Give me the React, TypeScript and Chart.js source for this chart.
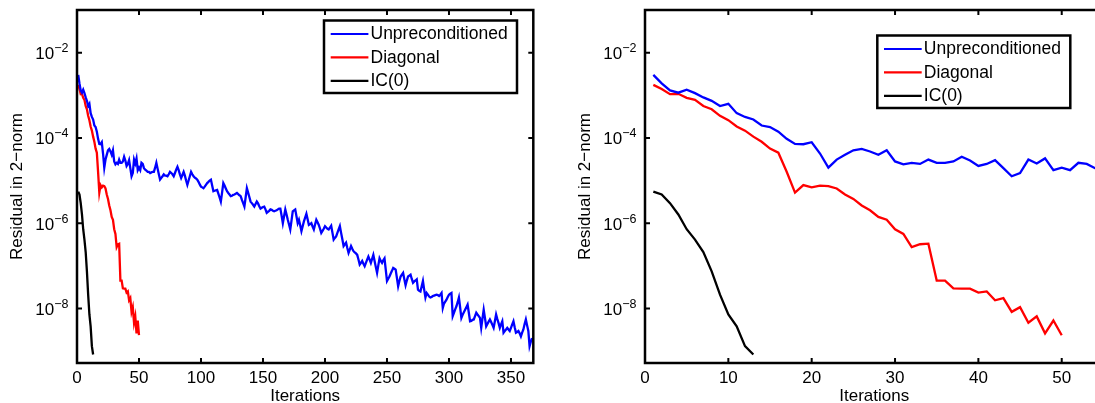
import React, { useEffect, useRef } from 'react';
import { Chart, registerables } from 'chart.js';

Chart.register(...registerables);

const FONT = "'Liberation Sans', Arial, Helvetica, sans-serif";

// Residual (2-norm) per iteration, starting at iteration 1
const unpreconditioned = [
  3.0e-3, 1.9e-3, 1.3e-3, 1.15e-3, 1.35e-3, 1.12e-3, 8.9e-4, 7.4e-4, 5.6e-4, 6.3e-4,
  3.8e-4, 3.1e-4, 2.7e-4, 1.95e-4, 1.8e-4, 1.4e-4, 9.5e-5, 7.2e-5, 7.1e-5, 7.9e-5,
  4.3e-5, 2.0e-5, 3.1e-5, 4.0e-5, 5.1e-5, 5.5e-5, 4.8e-5, 4.0e-5, 5.1e-5, 2.8e-5,
  2.4e-5, 2.6e-5, 2.45e-5, 3.1e-5, 2.6e-5, 2.6e-5, 2.8e-5, 3.6e-5, 2.95e-5, 2.2e-5,
  2.45e-5, 3.0e-5, 1.95e-5, 1.26e-5, 1.5e-5, 3.1e-5, 2.5e-5, 3.3e-5, 1.75e-5, 2.0e-5,
  1.75e-5, 2.6e-5, 2.45e-5, 1.95e-5, 1.8e-5, 1.7e-5, 1.6e-5, 1.6e-5, 1.5e-5, 1.55e-5,
  1.6e-5, 1.6e-5, 2.0e-5, 2.6e-5, 1.9e-5, 1.4e-5, 1.05e-5, 1.15e-5, 1.26e-5, 1.4e-5,
  1.3e-5, 1.3e-5, 1.26e-5, 1.4e-5, 1.6e-5, 1.5e-5, 1.4e-5, 1.26e-5, 1.5e-5, 1.8e-5,
  2.1e-5, 1.75e-5, 1.4e-5, 1.15e-5, 1.35e-5, 1.6e-5, 1.3e-5, 1.0e-5, 7.9e-6, 1.0e-5,
  1.26e-5, 1.6e-5, 1.4e-5, 1.26e-5, 1.17e-5, 1.12e-5, 1.05e-5, 9.3e-6, 8.1e-6, 7.2e-6,
  6.9e-6, 6.6e-6, 7.2e-6, 7.9e-6, 8.7e-6, 9.3e-6, 1.0e-5, 1.05e-5, 7.6e-6, 5.6e-6,
  5.75e-6, 5.9e-6, 6.0e-6, 4.9e-6, 4.0e-6, 3.2e-6, 5.2e-6, 8.7e-6, 7.6e-6, 6.5e-6,
  5.6e-6, 5.1e-6, 4.7e-6, 4.3e-6, 4.4e-6, 4.6e-6, 4.7e-6, 4.9e-6, 5.1e-6, 4.8e-6,
  4.5e-6, 4.3e-6, 3.5e-6, 2.95e-6, 2.45e-6, 4.0e-6, 6.6e-6, 5.2e-6, 4.1e-6, 3.2e-6,
  2.95e-6, 2.7e-6, 2.45e-6, 2.8e-6, 3.2e-6, 2.9e-6, 2.5e-6, 2.2e-6, 2.3e-6, 2.4e-6,
  2.45e-6, 2.1e-6, 1.75e-6, 1.85e-6, 1.95e-6, 2.1e-6, 2.05e-6, 1.95e-6, 1.9e-6, 1.95e-6,
  2.0e-6, 2.1e-6, 2.2e-6, 2.2e-6, 1.5e-6, 1.0e-6, 1.45e-6, 2.1e-6, 1.6e-6, 1.2e-6,
  9.3e-7, 7.1e-7, 1.15e-6, 1.9e-6, 2.0e-6, 2.1e-6, 1.45e-6, 1.0e-6, 1.2e-6, 8.9e-7,
  6.5e-7, 8.5e-7, 1.1e-6, 1.35e-6, 1.65e-6, 1.23e-6, 9.1e-7, 9.5e-7, 1.0e-6, 8.3e-7,
  7.1e-7, 9.3e-7, 1.2e-6, 1.05e-6, 9.1e-7, 7.4e-7, 5.9e-7, 6.6e-7, 7.4e-7, 8.5e-7,
  7.9e-7, 7.4e-7, 7.1e-7, 7.9e-7, 8.7e-7, 6.0e-7, 4.1e-7, 4.5e-7, 4.9e-7, 5.9e-7,
  7.1e-7, 8.5e-7, 5.9e-7, 4.2e-7, 2.9e-7, 3.2e-7, 3.5e-7, 2.6e-7, 2.0e-7, 2.4e-7,
  2.9e-7, 2.5e-7, 2.2e-7, 2.05e-7, 1.95e-7, 1.8e-7, 1.4e-7, 1.07e-7, 1.17e-7, 1.3e-7,
  1.12e-7, 9.8e-8, 1.17e-7, 1.4e-7, 1.65e-7, 1.4e-7, 1.17e-7, 1.45e-7, 1.8e-7, 1.3e-7,
  9.3e-8, 6.8e-8, 1.02e-7, 1.5e-7, 1.3e-7, 1.17e-7, 1.35e-7, 1.5e-7, 8.1e-8, 4.4e-8,
  5.0e-8, 5.6e-8, 6.6e-8, 7.6e-8, 8.9e-8, 8.5e-8, 8.1e-8, 5.2e-8, 3.3e-8, 4.4e-8,
  5.6e-8, 6.2e-8, 6.8e-8, 4.8e-8, 3.5e-8, 4.5e-8, 5.6e-8, 5.9e-8, 6.2e-8, 4.9e-8,
  4.0e-8, 4.3e-8, 4.5e-8, 4.8e-8, 2.75e-8, 2.6e-8, 2.5e-8, 3.3e-8, 4.4e-8, 2.75e-8,
  1.8e-8, 2.3e-8, 2.1e-8, 1.9e-8, 1.8e-8, 1.85e-8, 1.95e-8, 2.0e-8, 2.05e-8, 2.1e-8,
  2.05e-8, 1.95e-8, 2.1e-8, 2.3e-8, 1.02e-8, 1.3e-8, 1.45e-8, 1.6e-8, 1.85e-8, 2.1e-8,
  2.2e-8, 2.3e-8, 6.6e-9, 7.9e-9, 9.5e-9, 1.12e-8, 1.4e-8, 1.8e-8, 1.05e-8, 6.0e-9,
  7.1e-9, 8.1e-9, 9.3e-9, 1.07e-8, 1.23e-8, 7.9e-9, 5.0e-9, 5.1e-9, 5.4e-9, 5.5e-9,
  6.6e-9, 7.9e-9, 7.2e-9, 6.6e-9, 6.0e-9, 3.5e-9, 5.75e-9, 9.3e-9, 6.0e-9, 3.8e-9,
  4.3e-9, 4.9e-9, 5.5e-9, 4.8e-9, 4.1e-9, 3.5e-9, 5.0e-9, 7.2e-9, 5.6e-9, 4.5e-9,
  3.5e-9, 4.2e-9, 5.0e-9, 2.7e-9, 2.95e-9, 3.2e-9, 3.5e-9, 3.2e-9, 2.95e-9, 3.5e-9,
  4.2e-9, 5.0e-9, 3.6e-9, 2.7e-9, 2.8e-9, 2.95e-9, 2.6e-9, 2.2e-9, 2.7e-9, 3.2e-9,
  4.3e-9, 5.5e-9, 4.0e-9, 2.95e-9, 1.3e-9, 1.65e-9, 2.0e-9,
];

const diagonal = [
  1.75e-3, 1.4e-3, 1.06e-3, 1.08e-3, 8.7e-4, 7.8e-4, 5.6e-4, 4.7e-4, 3.3e-4, 2.6e-4,
  1.85e-4, 1.48e-4, 1.07e-4, 8.1e-5, 5.6e-5, 4.5e-5, 1.6e-5, 5.2e-6, 7.8e-6, 6.9e-6,
  7.6e-6, 7.4e-6, 6.5e-6, 4.7e-6, 3.7e-6, 2.6e-6, 2.0e-6, 1.4e-6, 1.2e-6, 7.2e-7,
  5.6e-7, 2.75e-7, 3.2e-7, 3.3e-7, 4.5e-8, 4.5e-8, 2.95e-8, 2.9e-8, 2.9e-8, 2.35e-8,
  2.5e-8, 1.55e-8, 1.75e-8, 8.3e-9, 1.07e-8, 4.6e-9, 6.5e-9, 2.6e-9, 5.2e-9, 2.35e-9,
];

const ic0 = [
  5.5e-6, 4.7e-6, 2.95e-6, 1.6e-6, 7.2e-7, 4.1e-7, 2.1e-7, 7.4e-8, 2.1e-8, 7.2e-9,
  3.8e-9, 1.3e-9, 8.3e-10,
];

const seriesLabels = ['Unpreconditioned', 'Diagonal', 'IC(0)'];
const seriesColors = ['#0000ff', '#ff0000', '#000000'];
const leftXTicks = [0, 50, 100, 150, 200, 250, 300, 350];
const rightXTicks = [0, 10, 20, 30, 40, 50];
const yTickValues = [1e-2, 1e-4, 1e-6, 1e-8];
const yTickExponents = ['\u22122', '\u22124', '\u22126', '\u22128'];
const xTitle = 'Iterations';
const yTitle = 'Residual in 2\u2212norm';

const Y_MIN = 5.24e-10;
const Y_MAX = 1e-1;

const matlabPlugin = {
  id: 'matlabFrame',
  afterDraw(chart: any, _args: any, opts: any) {
    const { ctx, chartArea } = chart;
    const { left, top, right, bottom } = chartArea;
    const xs = chart.scales.x;
    const ys = chart.scales.y;
    ctx.save();
    // ticks
    ctx.strokeStyle = '#000';
    ctx.lineWidth = 2;
    const tl = 5;
    ctx.beginPath();
    (opts.xTicks as number[]).forEach((v) => {
      const px = xs.getPixelForValue(v);
      ctx.moveTo(px, bottom);
      ctx.lineTo(px, bottom - tl);
      ctx.moveTo(px, top);
      ctx.lineTo(px, top + tl);
    });
    yTickValues.forEach((v) => {
      const py = ys.getPixelForValue(v);
      ctx.moveTo(left, py);
      ctx.lineTo(left + tl, py);
      ctx.moveTo(right, py);
      ctx.lineTo(right - tl, py);
    });
    ctx.stroke();
    // frame
    ctx.lineWidth = 2.5;
    ctx.strokeRect(left, top, right - left, bottom - top);

    // y tick labels with superscripts
    ctx.fillStyle = '#000';
    ctx.textAlign = 'left';
    ctx.textBaseline = 'alphabetic';
    yTickValues.forEach((v, i) => {
      const py = ys.getPixelForValue(v);
      const exp = yTickExponents[i];
      ctx.font = `12.5px ${FONT}`;
      const ew = ctx.measureText(exp).width;
      const xr = left - 8.5;
      ctx.fillText(exp, xr - ew, py - 0.5);
      ctx.font = `17px ${FONT}`;
      const bw = ctx.measureText('10').width;
      ctx.fillText('10', xr - ew - bw, py + 6.6);
    });

    // legend
    const lp = opts.legend;
    const bw = 193;
    const bh = 72.5;
    const bx = lp.anchor === 'right' ? right - lp.dx - bw : left + lp.dx;
    const by = top + lp.dy;
    ctx.fillStyle = '#fff';
    ctx.fillRect(bx, by, bw, bh);
    ctx.lineWidth = 2.5;
    ctx.strokeStyle = '#000';
    ctx.strokeRect(bx, by, bw, bh);
    ctx.font = `17.5px ${FONT}`;
    ctx.textBaseline = 'middle';
    seriesLabels.forEach((lab, i) => {
      const ry = by + 13.5 + i * 23.4;
      ctx.strokeStyle = seriesColors[i];
      ctx.lineWidth = 2.2;
      ctx.beginPath();
      ctx.moveTo(bx + 6.7, ry);
      ctx.lineTo(bx + 44.4, ry);
      ctx.stroke();
      ctx.fillStyle = '#000';
      ctx.fillText(lab, bx + 46.5, ry + 0.5);
    });
    ctx.restore();
  },
};

type PlotProps = {
  xMax: number;
  xTicks: number[];
  padRight: number;
  legend: { anchor: 'left' | 'right'; dx: number; dy: number };
  left: number;
};

function toPoints(values: number[]) {
  return values.map((v, i) => ({ x: i + 1, y: v }));
}

function MatlabPlot({ xMax, xTicks, padRight, legend, left }: PlotProps) {
  const ref = useRef<HTMLCanvasElement>(null);
  useEffect(() => {
    const tickFont = { family: FONT, size: 17, lineHeight: 1 };
    const chart = new Chart(ref.current as HTMLCanvasElement, {
      type: 'line',
      data: {
        datasets: [unpreconditioned, diagonal, ic0].map((vals, i) => ({
          label: seriesLabels[i],
          data: toPoints(vals),
          borderColor: seriesColors[i],
          backgroundColor: seriesColors[i],
          borderWidth: 2.3,
          pointRadius: 0,
          tension: 0,
          fill: false,
        })),
      },
      options: {
        responsive: false,
        animation: false,
        events: [],
        layout: { padding: { left: 0, top: 10, right: padRight, bottom: 0 } },
        plugins: {
          legend: { display: false },
          tooltip: { enabled: false },
          matlabFrame: { xTicks, legend },
        } as any,
        scales: {
          x: {
            type: 'linear',
            min: 0,
            max: xMax,
            grid: { display: false, drawTicks: false },
            border: { display: false },
            afterBuildTicks: (scale: any) => {
              scale.ticks = xTicks.map((v) => ({ value: v }));
            },
            afterFit: (scale: any) => {
              scale.height = 40;
            },
            ticks: {
              autoSkip: false,
              maxRotation: 0,
              color: '#000',
              font: tickFont,
              padding: 6.5,
              callback: (v: any) => String(v),
            },
            title: {
              display: true,
              text: xTitle,
              color: '#000',
              font: tickFont,
              padding: { top: 0, bottom: -1.5 },
            },
          },
          y: {
            type: 'logarithmic',
            min: Y_MIN,
            max: Y_MAX,
            grid: { display: false, drawTicks: false },
            border: { display: false },
            afterFit: (scale: any) => {
              scale.width = 77;
            },
            ticks: { display: false },
            title: {
              display: true,
              text: yTitle,
              color: '#000',
              font: tickFont,
              padding: { top: 9, bottom: 0 },
            },
          },
        },
      } as any,
      plugins: [matlabPlugin],
    });
    return () => chart.destroy();
  }, []);
  return (
    <canvas
      ref={ref}
      width={547}
      height={403}
      style={{ position: 'absolute', left, top: 0, width: 547, height: 403, display: 'block' }}
    />
  );
}

export default function App() {
  return (
    <div
      style={{
        position: 'absolute',
        left: 0,
        top: 0,
        width: 1095,
        height: 403,
        overflow: 'hidden',
        background: '#fff',
      }}
    >
      <MatlabPlot
        xMax={368}
        xTicks={leftXTicks}
        padRight={13.7}
        legend={{ anchor: 'right', dx: 16.3, dy: 10.5 }}
        left={0}
      />
      <MatlabPlot
        xMax={55}
        xTicks={rightXTicks}
        padRight={11.6}
        legend={{ anchor: 'left', dx: 232.3, dy: 25.5 }}
        left={568}
      />
    </div>
  );
}
